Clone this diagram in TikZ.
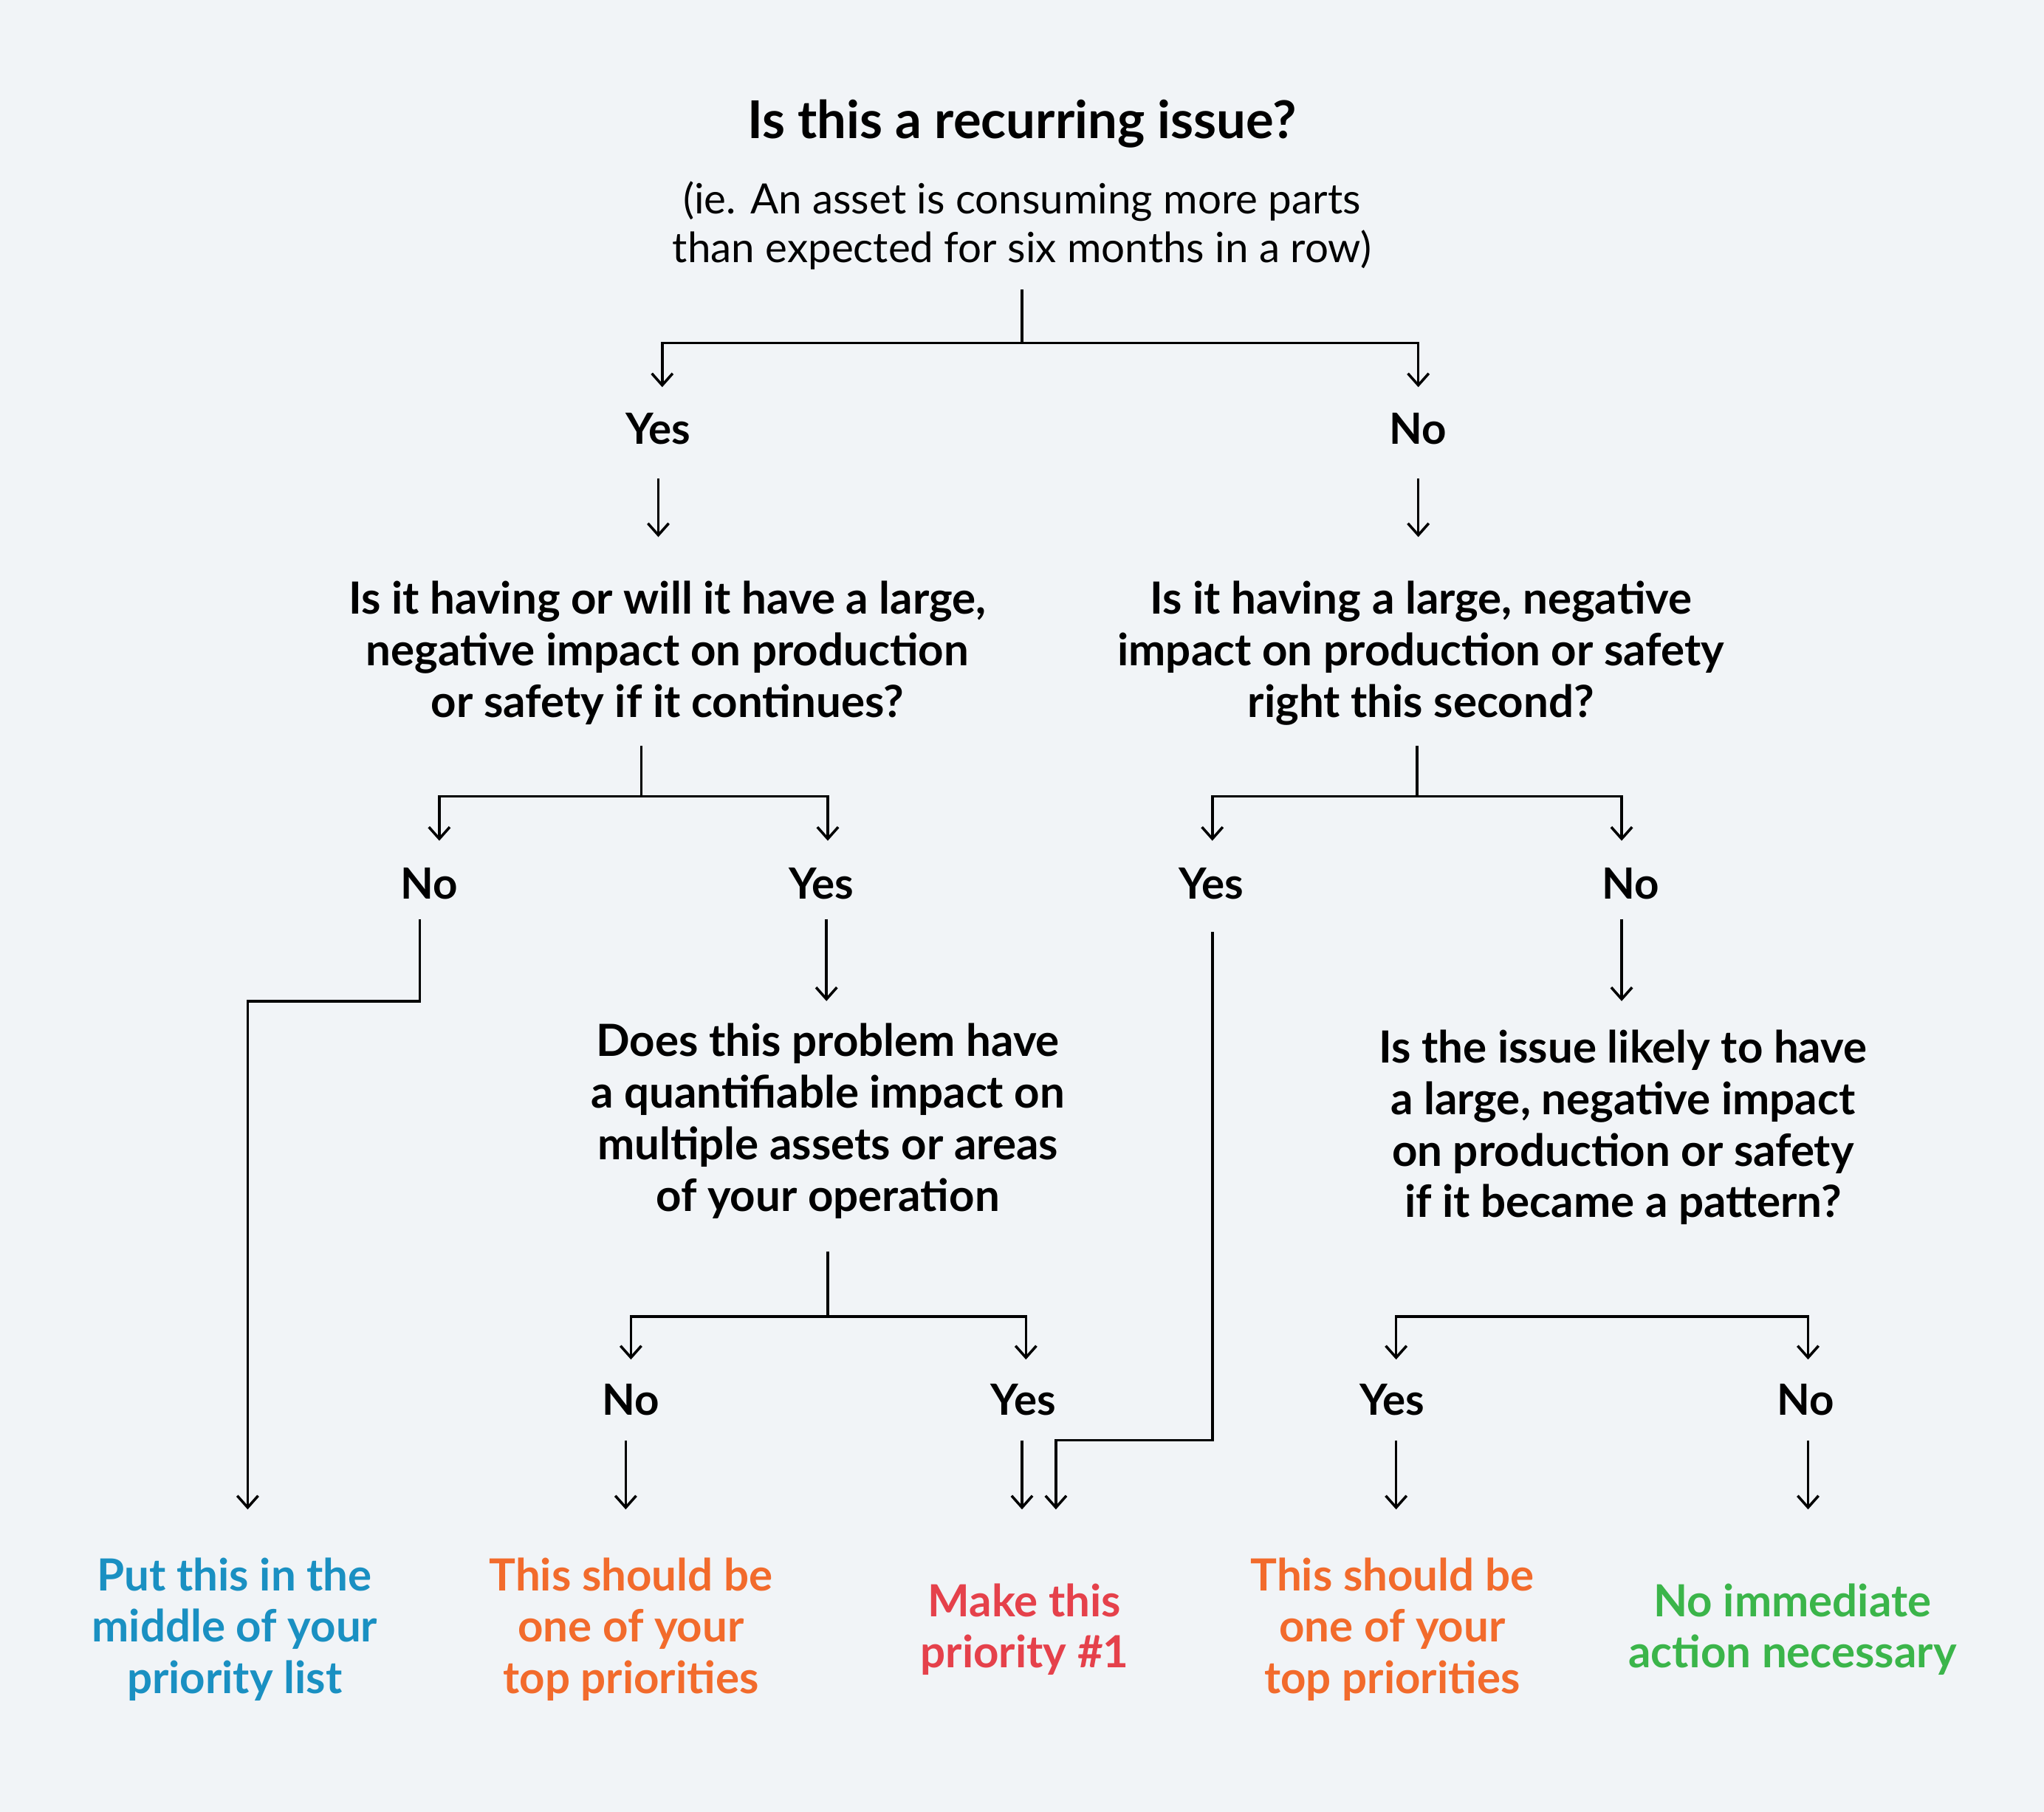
\documentclass[tikz,border=0pt]{standalone}
\usepackage{fontspec}
\setmainfont{Lato}
\usetikzlibrary{arrows.meta}
\definecolor{bg}{HTML}{F1F4F7}
\definecolor{cblue}{HTML}{1A90C2}
\definecolor{corange}{HTML}{F26B2C}
\definecolor{cred}{HTML}{E5414B}
\definecolor{cgreen}{HTML}{3BB54A}
\begin{document}
\begin{tikzpicture}[x=1pt,y=-1pt,
  q/.style={align=center,font=\fontsize{34}{39.5}\selectfont\bfseries,inner sep=0},
  lab/.style={font=\fontsize{33}{39.5}\selectfont\bfseries,inner sep=0},
  res/.style={q},
  ln/.style={line width=2pt,black},
  ar/.style={ln,-{Straight Barb[length=9pt,width=16pt,line width=2pt]}}]
\fill[bg] (0,0) rectangle (1568,1390);
\useasboundingbox (0,0) rectangle (1568,1390);
\node[inner sep=0,font=\fontsize{40}{40}\selectfont\bfseries] (t) at (784,95) {Is this a recurring issue?};
\node[inner sep=0,align=center,font=\fontsize{32}{37}\selectfont] (ts) at (784,173) {(ie. An asset is consuming more parts\\than expected for six months in a row)};
\node[lab] (y1) at (505,329) {Yes};
\node[lab] (n1) at (1088,329) {No};
\node[q] (q2l) at (512,501) {Is it having or will it have a large,\\negative impact on production\\or safety if it continues?};
\node[q] (q2r) at (1090,501) {Is it having a large, negative\\impact on production or safety\\right this second?};
\node[lab] (n2) at (329,678) {No};
\node[lab] (y2) at (630,678) {Yes};
\node[lab] (y3) at (929,678) {Yes};
\node[lab] (n3) at (1251,678) {No};
\node[q] (q3) at (635,860) {Does this problem have\\a quantifiable impact on\\multiple assets or areas\\of your operation};
\node[q] (q4) at (1245,865) {Is the issue likely to have\\a large, negative impact\\on production or safety\\if it became a pattern?};
\node[lab] (n4) at (484,1074) {No};
\node[lab] (y4) at (785,1074) {Yes};
\node[lab] (y5) at (1068,1074) {Yes};
\node[lab] (n5) at (1385,1074) {No};
\node[res,text=cblue] (r1) at (180,1250) {Put this in the\\middle of your\\priority list};
\node[res,text=corange] (r2) at (484,1250) {This should be\\one of your\\top priorities};
\node[res,text=cred] (r3) at (786,1250) {Make this\\priority \#1};
\node[res,text=corange] (r4) at (1068,1250) {This should be\\one of your\\top priorities};
\node[res,text=cgreen] (r5) at (1375,1250) {No immediate\\action necessary};
% top split
\draw[ln] (784,222) -- (784,263);
\draw[ar] (784,263) -| (508,297);
\draw[ar] (784,263) -| (1088,297);
\draw[ar] (505,367) -- (505,412);
\draw[ar] (1088,367) -- (1088,412);
% second level
\draw[ln] (492,572) -- (492,611);
\draw[ar] (492,611) -| (337,645);
\draw[ar] (492,611) -| (635,645);
\draw[ln] (1087,572) -- (1087,611);
\draw[ar] (1087,611) -| (930,645);
\draw[ar] (1087,611) -| (1244,645);
% long paths
\draw[ar] (322,705) -- (322,768) -- (190,768) -- (190,1158);
\draw[ar] (634,705) -- (634,768);
\draw[ar] (1244,705) -- (1244,768);
\draw[ar] (930,715) -- (930,1105) -- (810,1105) -- (810,1158);
% third level
\draw[ln] (635,960) -- (635,1010);
\draw[ar] (635,1010) -| (484,1043);
\draw[ar] (635,1010) -| (787,1043);
\draw[ar] (1230,1010) -| (1071,1043);
\draw[ar] (1230,1010) -| (1387,1043);
\draw[ar] (480,1105) -- (480,1158);
\draw[ar] (784,1105) -- (784,1158);
\draw[ar] (1071,1105) -- (1071,1158);
\draw[ar] (1387,1105) -- (1387,1158);
\end{tikzpicture}
\end{document}
